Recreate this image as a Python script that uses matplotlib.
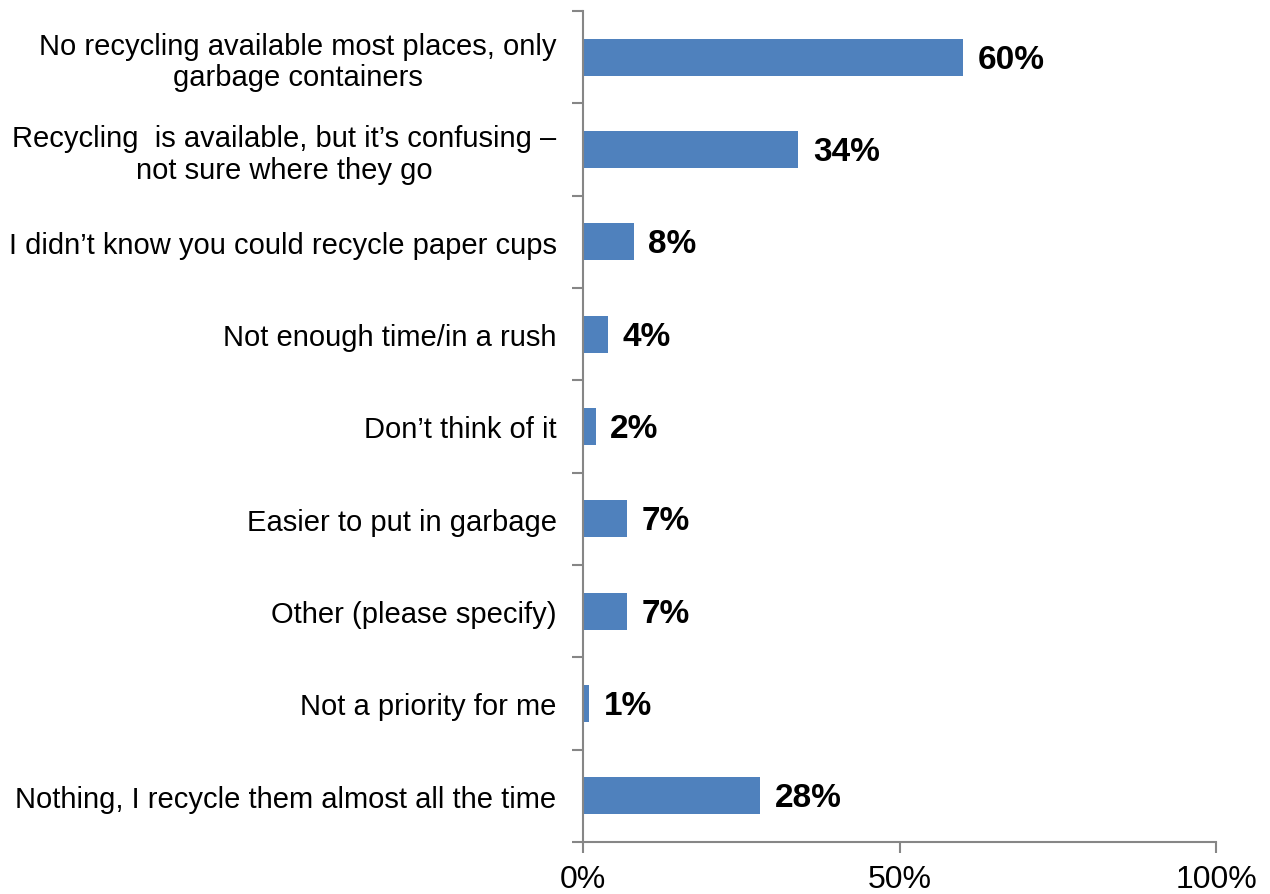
import numpy as np
import matplotlib
matplotlib.use("Agg")
import matplotlib.pyplot as plt

plt.rcParams['font.family'] = ['Liberation Sans', 'DejaVu Sans']

categories = [
    "No recycling available most places, only\ngarbage containers",
    "Recycling  is available, but it\u2019s confusing \u2013\nnot sure where they go",
    "I didn\u2019t know you could recycle paper cups",
    "Not enough time/in a rush",
    "Don\u2019t think of it",
    "Easier to put in garbage",
    "Other (please specify)",
    "Not a priority for me",
    "Nothing, I recycle them almost all the time",
]
values = [60, 34, 8, 4, 2, 7, 7, 1, 28]
x_ticks = [0, 50, 100]
x_tick_labels = ["0%", "50%", "100%"]

bar_color = "#4F81BD"
axis_color = "#868686"

fig = plt.figure(figsize=(12.7, 8.95), dpi=100)
ax = fig.add_axes([583 / 1270, 52 / 895, (1216 - 583) / 1270, (843 - 12) / 895])

n = len(categories)
pos = np.arange(n)
ax.barh(pos, values, height=0.4, color=bar_color)

for p, v in zip(pos, values):
    ax.text(v + 2.3, p + 0.02, f"{v}%", va="center", ha="left",
            fontsize=24, fontweight="bold", color="black")

ax.set_xlim(0, 100)
ax.set_ylim(n - 0.5, -0.5)

ax.set_xticks(x_ticks)
ax.set_xticklabels(x_tick_labels, fontsize=23)
ax.set_yticks(np.arange(n + 1) - 0.5)
ax.set_yticklabels([])
ax.set_yticks(pos, minor=True)
ax.set_yticklabels(categories, minor=True, fontsize=21, ha="right",
                   multialignment="center", linespacing=1.15)

ax.tick_params(axis="y", which="major", direction="out", length=8, width=1.5, color=axis_color)
ax.tick_params(axis="y", which="minor", length=0, pad=19)
ax.tick_params(axis="x", direction="out", length=8, width=1.5, color=axis_color, pad=8)

for s in ["top", "right"]:
    ax.spines[s].set_visible(False)
for s in ["left", "bottom"]:
    ax.spines[s].set_color(axis_color)
    ax.spines[s].set_linewidth(1.5)

fig.savefig("out.png", dpi=100)
